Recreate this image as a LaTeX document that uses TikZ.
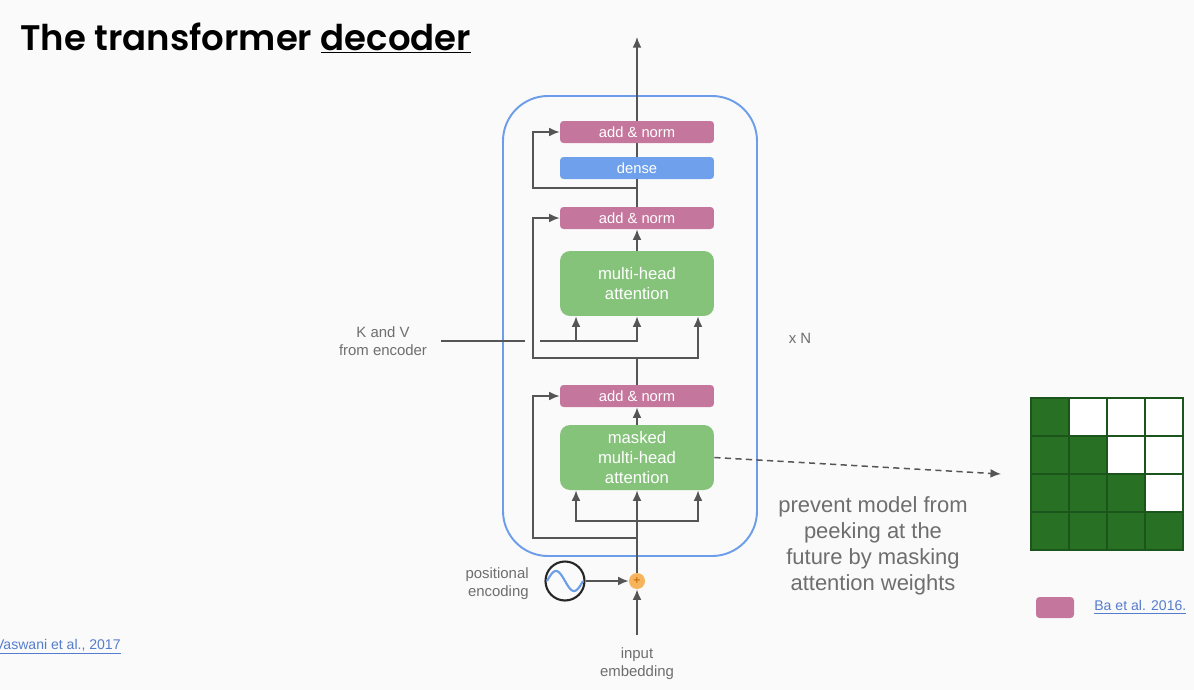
\documentclass[tikz,border=0pt]{standalone}
\usepackage{fontspec}
\setmainfont{Liberation Sans}
\newfontfamily\titlefont{Poppins SemiBold}
\usetikzlibrary{arrows.meta,calc}
\definecolor{paper}{RGB}{250,250,250}
\definecolor{normpink}{RGB}{197,118,156}
\definecolor{denseblue}{RGB}{111,160,235}
\definecolor{attgreen}{RGB}{133,194,122}
\definecolor{stackblue}{RGB}{108,157,232}
\definecolor{wiregray}{RGB}{85,85,85}
\definecolor{labelgray}{RGB}{110,110,110}
\definecolor{maskgreen}{RGB}{39,112,36}
\definecolor{maskline}{RGB}{28,85,28}
\definecolor{plusorange}{RGB}{246,180,92}
\definecolor{linkblue}{RGB}{85,125,205}
\tikzset{
	normbox/.style={fill=normpink, rounded corners=2pt, minimum width=3.08cm, minimum height=0.44cm, inner sep=0pt, text=white, font=\fontsize{8.4}{10}\selectfont},
	densebox/.style={normbox, fill=denseblue},
	attbox/.style={normbox, fill=attgreen, rounded corners=0.2cm, minimum height=1.3cm, align=center, font=\fontsize{9.5}{11.2}\selectfont},
	wire/.style={draw=wiregray, line width=0.85pt},
	arr/.style={wire, -{Latex[length=6pt,width=5pt]}},
	lbl/.style={text=labelgray, align=center, inner sep=0pt, font=\fontsize{8.5}{10.2}\selectfont},
	link/.style={text=linkblue, inner sep=0pt, font=\fontsize{8}{10}\selectfont}
}

\begin{document}
\begin{tikzpicture}[x=0.02cm, y=-0.02cm]
			%%%%% START %%%%%
			
			\fill[paper] (0, 0) rectangle (1194, 690);
			\useasboundingbox (0, 0) rectangle (1194, 690);
			
			\node[anchor=base west, inner sep=0pt, font=\titlefont\fontsize{20.2}{25}\selectfont] (title) at (20, 50) {The transformer \underline{decoder}};
			
			\draw[stackblue, line width=1.1pt, rounded corners=0.9cm] (503, 96) rectangle (757, 556);
			
			\node[normbox] (addnormA) at (637, 132) {add \& norm};
			\node[densebox] (dense) at (637, 168) {dense};
			\node[normbox] (addnormB) at (637, 218) {add \& norm};
			\node[attbox] (mha) at (637, 283.5) {multi-head\\attention};
			\node[normbox] (addnormC) at (637, 396) {add \& norm};
			\node[attbox] (mmha) at (637, 457.5) {masked\\multi-head\\attention};
			
			\node[circle, fill=plusorange, minimum size=0.32cm, inner sep=0pt, text=orange!75!black, font=\fontsize{7}{7}\selectfont] (plus) at (637, 581) {+};
			\node[circle, draw=black!85, line width=1.2pt, minimum size=0.78cm, inner sep=0pt] (posenc) at (565, 581) {};
			\draw[stackblue, line width=1.2pt] plot[domain=-18:18, samples=40, smooth] ({565+\x}, {581+10*sin(\x*10)});
			
			\node[lbl] (kv) at (383, 341) {K and V\\from encoder};
			\node[lbl, anchor=east, align=right] (poslbl) at (529, 584) {positional\\encoding};
			\node[lbl] (inemb) at (637, 664) {input\\embedding};
			\node[lbl] (times) at (800, 338) {x N};
			\node[lbl, font=\fontsize{12.5}{14.8}\selectfont] (note) at (873, 546) {prevent model from\\peeking at the\\future by masking\\attention weights};
			
			\coordinate (out) at (637, 37);
			\coordinate (skipA) at (637, 188);
			\coordinate (resB) at (637, 358);
			\coordinate (kvin) at (441, 341);
			\coordinate (split) at (637, 521);
			\coordinate (resC) at (637, 538);
			\coordinate (inp) at (637, 635);
			\coordinate (maskpt) at (1001, 474);
			\coordinate (mhaK) at ($(mha.south)+(-61, 0)$);
			\coordinate (mhaQ) at ($(mha.south)+(61, 0)$);
			\coordinate (mmhaK) at ($(mmha.south)+(-61, 0)$);
			\coordinate (mmhaQ) at ($(mmha.south)+(61, 0)$);
			
			% top of the block
			\draw[arr] (addnormA.north) -- (out);
			\draw[wire] (dense.north) -- (addnormA.south);
			\draw[wire] (addnormB.north) -- (dense.south);
			\draw[arr] (skipA) -- ++(-104, 0) |- (addnormA.west);
			
			% cross attention
			\draw[arr] (mha.north) -- (addnormB.south);
			\draw[wire] (addnormC.north) -- (resB);
			\draw[arr] (resB) -- ++(-104, 0) |- (addnormB.west);
			\draw[arr] (resB) -| (mhaQ);
			\draw[wire] (kvin) -- ++(84, 0);
			\draw[arr] ($(kvin)+(99, 0)$) -| (mha.south);
			\draw[arr] (mhaK |- kvin) -- (mhaK);
			
			% masked self attention
			\draw[arr] (mmha.north) -- (addnormC.south);
			\draw[arr] (plus.north) -- (mmha.south);
			\draw[arr] (split) -| (mmhaK);
			\draw[arr] (split) -| (mmhaQ);
			\draw[arr] (resC) -- ++(-104, 0) |- (addnormC.west);
			\draw[arr, dash pattern=on 3.5pt off 2.5pt] (mmha.east) -- (maskpt);
			
			\draw[arr] (inp) -- (plus.south);
			\draw[arr] (posenc.east) -- (plus.west);
			
			% mask
			\foreach \r in {0,...,3}
				\foreach \c in {0,...,3}{
					\ifnum\c>\r \def\cellfill{white}\else\def\cellfill{maskgreen}\fi
					\draw[draw=maskline, line width=0.6pt, fill=\cellfill] ({1031+38*\c}, {398+38*\r}) rectangle ++(38, 38);
				}
			
			\node[fill=normpink, rounded corners=2pt, minimum width=0.76cm, minimum height=0.42cm, inner sep=0pt] (legend) at (1055, 607.5) {};
			\node[link, anchor=west] (baref) at (1094, 607) {\underline{Ba et al. 2016.}};
			\node[link, anchor=east] (vaswani) at (121, 647) {\underline{Vaswani et al., 2017}};
			
			%%%%% END %%%%%
		\end{tikzpicture}
\end{document}
